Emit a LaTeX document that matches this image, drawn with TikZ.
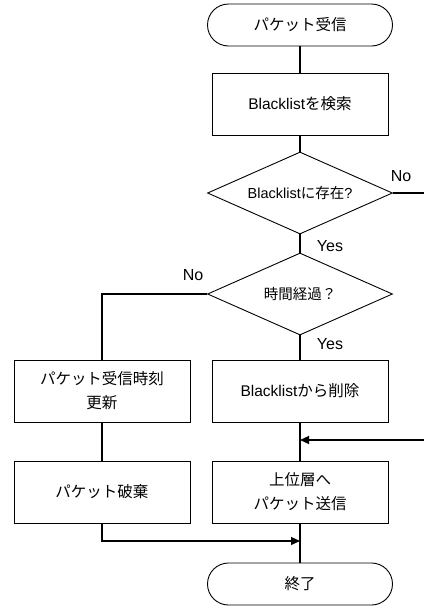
\documentclass[tikz,border=0pt]{standalone}
\usepackage{fontspec}
\setmainfont{Liberation Sans}
\newfontfamily\jp{Noto Sans CJK JP}
\usetikzlibrary{shapes.geometric,arrows.meta}
\tikzset{
  term/.style={draw,line width=0.9pt,rounded corners=21pt,minimum width=185pt,minimum height=42pt,inner sep=0pt,font=\fontsize{15.5}{18}\selectfont},
  proc/.style={draw,line width=0.9pt,minimum width=176pt,minimum height=62pt,inner sep=0pt,align=center,font=\fontsize{15.5}{24}\selectfont},
  dec/.style={draw,line width=0.9pt,diamond,aspect=2.26,minimum width=185pt,minimum height=82pt,inner sep=0pt,font=\fontsize{14.5}{17}\selectfont},
  conn/.style={line width=1.2pt},
  arr/.style={line width=1.2pt,-{Triangle[length=9pt,width=8pt]}},
  lbl/.style={font=\fontsize{16}{18}\selectfont}
}
\begin{document}
\begin{tikzpicture}[x=1pt,y=-1pt]
\useasboundingbox (0,0) rectangle (424,614);
\node[term] (start) at (300,25) {\jp パケット受信};
\node[proc] (search) at (300,104) {Blacklist{\jp を検索}};
\node[dec] (d1) at (300,193) {Blacklist{\jp に存在}?};
\node[dec] (d2) at (300,294) {\jp 時間経過？};
\node[proc] (upd) at (102,391) {{\jp パケット受信時刻}\\{\jp 更新}};
\node[proc] (del) at (300,391) {Blacklist{\jp から削除}};
\node[proc] (drop) at (102,492) {\jp パケット破棄};
\node[proc] (send) at (300,492) {{\jp 上位層へ}\\{\jp パケット送信}};
\node[term] (end) at (300,584) {\jp 終了};
\coordinate (noend) at (424,193);
\coordinate (inright) at (424,440);
\coordinate (j1) at (300,440);
\coordinate (j2) at (300,541);
\draw[conn] (start) -- (search);
\draw[conn] (search) -- (d1);
\draw[conn] (d1.east) -- (noend);
\draw[conn] (d1.south) -- (d2.north);
\draw[conn] (d2.west) -| (upd.north);
\draw[conn] (d2.south) -- (del.north);
\draw[conn] (upd.south) -- (drop.north);
\draw[conn] (del.south) -- (send.north);
\draw[arr] (inright) -- (j1);
\draw[conn] (send.south) -- (end.north);
\draw[arr] (drop.south) |- (j2);
\node[lbl] (no1) at (401,176) {No};
\node[lbl] (yes1) at (330,246) {Yes};
\node[lbl] (no2) at (193,275) {No};
\node[lbl] (yes2) at (330,344) {Yes};
\end{tikzpicture}
\end{document}
